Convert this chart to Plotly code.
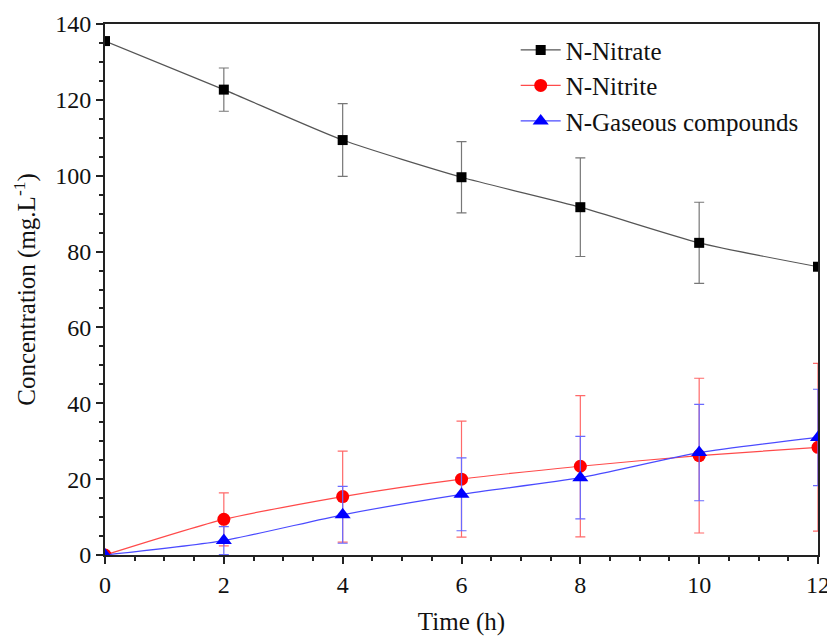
import plotly.graph_objects as go

time_h = [0, 2, 4, 6, 8, 10, 12]
nitrate = [135.5, 122.7, 109.4, 99.6, 91.7, 82.3, 76.0]
nitrate_err = [0, 5.7, 9.6, 9.4, 13.0, 10.7, 0]
nitrite = [0.0, 9.4, 15.4, 20.0, 23.4, 26.2, 28.4]
nitrite_err = [0, 7.0, 12.0, 15.3, 18.6, 20.4, 22.1]
gaseous = [0.0, 3.8, 10.6, 16.0, 20.4, 27.0, 31.0]
gaseous_err = [0, 3.7, 7.5, 9.6, 10.9, 12.7, 12.7]

series = [
    ("N-Nitrate", nitrate, nitrate_err, "#000000", "#555555", "#777777", "square", 10),
    ("N-Nitrite", nitrite, nitrite_err, "#ff0000", "#ff4a4a", "#ff6a6a", "circle", 13),
    ("N-Gaseous compounds", gaseous, gaseous_err, "#0000ff", "#4a4aff", "#6a6aff", "triangle-up", 14),
]

fig = go.Figure()
for name, vals, errs, mcol, lcol, ecol, sym, msize in series:
    fig.add_trace(go.Scatter(
        x=time_h, y=vals, name=name, mode="lines+markers",
        line=dict(color=lcol, width=1.2, shape="spline", smoothing=0.6),
        marker=dict(color=mcol, symbol=sym, size=msize),
        error_y=dict(type="data", array=errs, visible=True, color=ecol,
                     thickness=1.2, width=5),
    ))

axis_common = dict(
    showline=True, linecolor="#222222", linewidth=2, mirror=True,
    ticks="outside", ticklen=7, tickwidth=2, tickcolor="#222222",
    showgrid=False, zeroline=False, automargin=False,
    ticklabeloverflow="allow",
    tickfont=dict(family="Liberation Serif", size=24, color="#111111"),
    minor=dict(ticks="outside", ticklen=4, tickwidth=2, tickcolor="#222222"),
)

fig.update_xaxes(range=[0, 12], dtick=2, tick0=0,
                 title=dict(text="Time (h)", font=dict(family="Liberation Serif", size=25, color="#111111"), standoff=16),
                 **axis_common)
fig.update_yaxes(range=[0, 140], dtick=20, tick0=0,
                 title=dict(text="Concentration (mg.L<sup>-1</sup>)", font=dict(family="Liberation Serif", size=25, color="#111111"), standoff=12),
                 **axis_common)

fig.update_layout(
    width=827, height=642,
    margin=dict(l=105, r=9, t=24, b=87),
    paper_bgcolor="white", plot_bgcolor="white",
    showlegend=True,
    legend=dict(x=0.576, y=0.994, xanchor="left", yanchor="top",
                font=dict(family="Liberation Serif", size=25, color="#111111"),
                bgcolor="rgba(0,0,0,0)", itemwidth=40, tracegroupgap=0),
)

fig.write_html("out.html")
